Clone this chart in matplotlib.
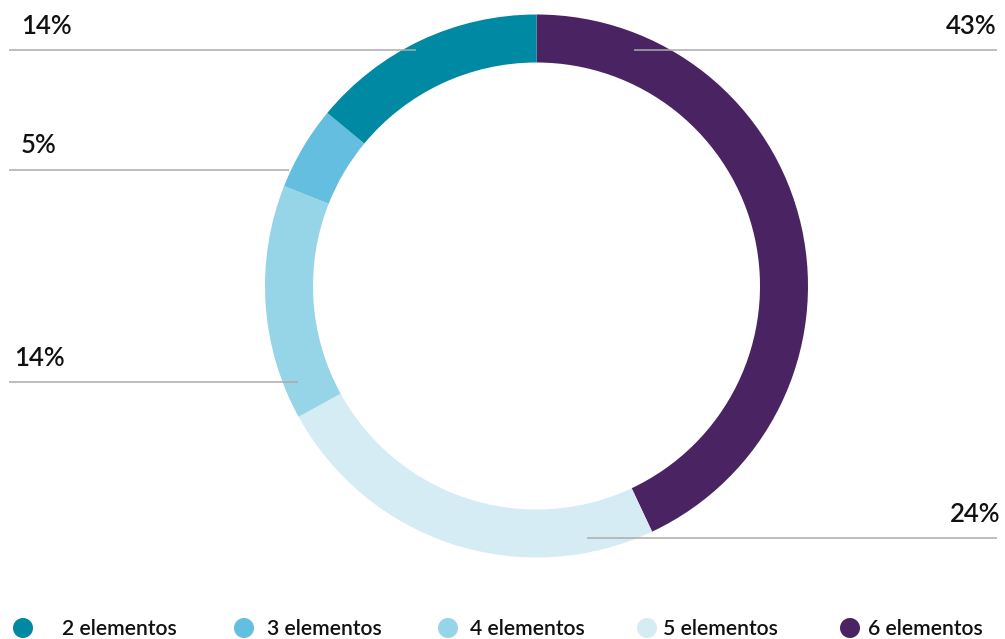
import matplotlib.pyplot as plt
from matplotlib.patches import Circle

plt.rcParams['font.family'] = ['Lato', 'DejaVu Sans']

# data
categories = ["2 elementos", "3 elementos", "4 elementos", "5 elementos", "6 elementos"]
shares = [14, 5, 14, 24, 43]
colors = ["#0089A3", "#63BEDF", "#96D4E8", "#D6ECF4", "#4A2462"]

W, H = 1005, 639
fig = plt.figure(figsize=(W / 100, H / 100), dpi=100)
ax = fig.add_axes([0, 0, 1, 1])

# donut drawn clockwise from the top, largest slice first
order = [4, 3, 2, 1, 0]
cx, cy, r = 536.5, H - 286, 271.5
ax.pie([shares[i] for i in order], colors=[colors[i] for i in order],
       startangle=90, counterclock=False, radius=r, center=(cx, cy),
       wedgeprops=dict(width=48, linewidth=0))

# leader lines + labels (pixel layout, y from top)
leaders = {
    0: ((9, 416), 50, (21, 34), "left"),
    1: ((9, 289), 170, (21, 153), "left"),
    2: ((9, 298), 382, (14, 366), "left"),
    3: ((587, 997), 538, (1000, 522), "right"),
    4: ((634, 997), 50, (996, 34), "right"),
}
for i, ((x0, x1), ly, (tx, ty), ha) in leaders.items():
    ax.plot([x0, x1], [H - ly, H - ly], color="#ABABAB", lw=1.1, solid_capstyle="butt")
    ax.text(tx, H - ty, f"{shares[i]}%", ha=ha, va="baseline",
            fontsize=18.5, fontweight=600, color="#111111")

# legend
leg_marker_x = [23, 244, 448, 647, 850]
leg_text_x = [62, 267, 470, 663, 868]
leg_y = H - 628
for mx, tx, c, lab in zip(leg_marker_x, leg_text_x, colors, categories):
    ax.add_patch(Circle((mx, leg_y), 10, color=c, lw=0))
    ax.text(tx, leg_y - 1, lab, ha="left", va="center",
            fontsize=15.2, fontweight=600, color="#111111")

ax.set_xlim(0, W)
ax.set_ylim(0, H)
ax.set_aspect("equal")
ax.axis("off")

fig.savefig("out.png", dpi=100)
